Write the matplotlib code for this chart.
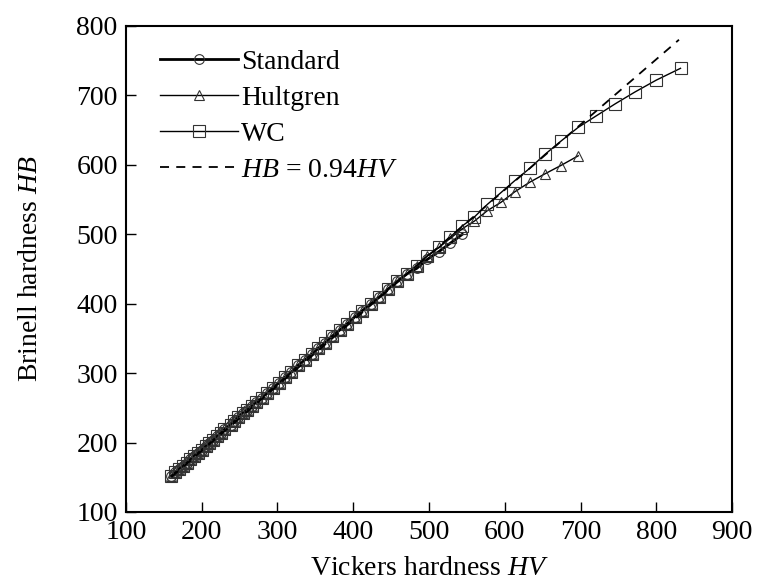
import matplotlib
matplotlib.use('Agg')
import matplotlib.pyplot as plt

# low range (all three balls give the same HB here)
hv_low = [160, 165, 170, 175, 180, 185, 190, 195, 200, 205, 210, 215, 220, 225, 230,
          238, 243, 248, 254, 260, 266, 272, 279, 286, 294, 302, 310, 318, 327, 336,
          345, 354, 363, 372, 382, 392, 402, 412, 423, 434, 446, 458, 471]
hb_low = [152, 157, 162, 166, 171, 176, 181, 185, 190, 195, 199, 204, 209, 214, 219,
          226, 231, 237, 243, 247, 253, 258, 264, 271, 279, 286, 294, 301, 311, 319,
          327, 336, 344, 353, 362, 371, 381, 390, 400, 409, 421, 432, 443]

hv_std = hv_low + [484, 498, 513, 528, 544]
hb_std = hb_low + [451, 464, 475, 487, 500]

hv_hult = hv_low + [484, 498, 513, 528, 544, 560, 577, 595, 613, 633, 653, 674, 697]
hb_hult = hb_low + [455, 469, 481, 494, 508, 519, 534, 546, 561, 575, 587, 599, 613]

hv_wc = hv_low + [484, 498, 513, 528, 544, 560, 577, 595, 613, 633, 653, 674, 697,
                  720, 746, 772, 800, 832]
hb_wc = hb_low + [455, 469, 481, 496, 512, 525, 543, 560, 577, 595, 615, 634, 654,
                  670, 688, 705, 722, 739]

hv_fit = [160, 830]
ratio = 0.94

plt.rcParams['font.family'] = ['Liberation Serif', 'DejaVu Serif']
plt.rcParams['mathtext.fontset'] = 'custom'
plt.rcParams['mathtext.it'] = 'Liberation Serif:italic'
plt.rcParams['mathtext.rm'] = 'Liberation Serif'
fs = 20

fig = plt.figure(figsize=(7.57, 5.85), dpi=100)
ax = fig.add_axes([0.1664, 0.1248, 0.8006, 0.8308])

mk = dict(markerfacecolor='none', markeredgecolor='#333333', markeredgewidth=0.8)
ax.plot(hv_std, hb_std, color='black', lw=2.0, marker='o', markersize=7,
        label='Standard', **mk)
ax.plot(hv_hult, hb_hult, color='black', lw=1.0, marker='^', markersize=7,
        label='Hultgren', **mk)
ax.plot(hv_wc, hb_wc, color='black', lw=1.0, marker='s', markersize=8,
        label='WC', **mk)
hb_fit = [ratio * v for v in hv_fit]
ax.plot(hv_fit, hb_fit, color='black', lw=1.3, linestyle=(0, (5, 4)),
        label='$HB$ = 0.94$HV$')

ax.set_xlim(100, 900)
ax.set_ylim(100, 800)
ax.set_xticks(range(100, 901, 100))
ax.set_yticks(range(100, 801, 100))
ax.tick_params(direction='in', length=7, width=1, labelsize=fs, pad=6)
for s in ax.spines.values():
    s.set_linewidth(1.5)

ax.set_xlabel('Vickers hardness $HV$', fontsize=fs, labelpad=8)
ax.set_ylabel('Brinell hardness $HB$', fontsize=fs, labelpad=24)

ax.legend(loc='upper left', bbox_to_anchor=(0.02, 0.998), frameon=False,
          fontsize=fs, handlelength=2.8, handletextpad=0.1, labelspacing=0.38,
          numpoints=1, borderaxespad=0.4)

fig.savefig('out.png', dpi=100)
